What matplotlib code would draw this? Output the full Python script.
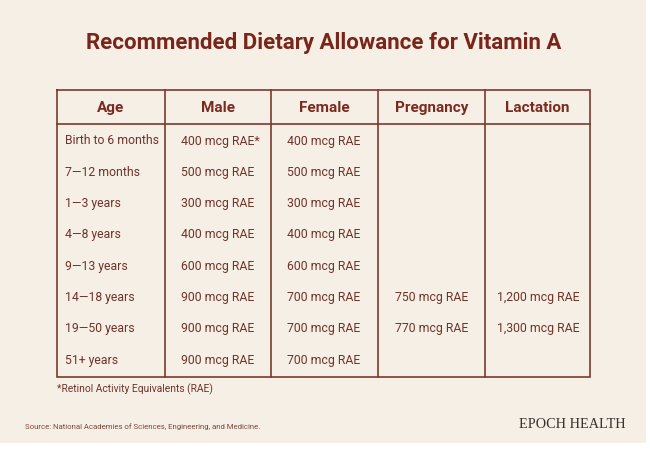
import matplotlib
matplotlib.use("Agg")
import matplotlib.pyplot as plt
from matplotlib.patches import Rectangle

# ---- data ----
title = "Recommended Dietary Allowance for Vitamin A"
headers = ["Age", "Male", "Female", "Pregnancy", "Lactation"]
ages = ["Birth to 6 months", "7\u201412 months", "1\u20143 years", "4\u20148 years",
        "9\u201413 years", "14\u201418 years", "19\u201450 years", "51+ years"]
male = ["400 mcg RAE*", "500 mcg RAE", "300 mcg RAE", "400 mcg RAE",
        "600 mcg RAE", "900 mcg RAE", "900 mcg RAE", "900 mcg RAE"]
female = ["400 mcg RAE", "500 mcg RAE", "300 mcg RAE", "400 mcg RAE",
          "600 mcg RAE", "700 mcg RAE", "700 mcg RAE", "700 mcg RAE"]
pregnancy = ["", "", "", "", "", "750 mcg RAE", "770 mcg RAE", ""]
lactation = ["", "", "", "", "", "1,200 mcg RAE", "1,300 mcg RAE", ""]
footnote = "*Retinol Activity Equivalents (RAE)"
source = "Source: National Academies of Sciences, Engineering, and Medicine."
brand = "EPOCH HEALTH"

# ---- style ----
BG = "#f6efe6"
TITLE_C = "#7a2519"
HEAD_C = "#7a2a1f"
BODY_C = "#6e3329"
LINE_C = "#7b3a2d"
FONT = "Roboto"

W, H = 650, 450
fig = plt.figure(figsize=(W / 100, H / 100), dpi=100, facecolor="white")
ax = fig.add_axes([0, 0, 1, 1])
ax.set_xlim(0, W)
ax.set_ylim(H, 0)
ax.axis("off")
ax.add_patch(Rectangle((0, 0), 646, 443, facecolor=BG, edgecolor="none", zorder=0))

ax.text(324, 43, title, ha="center", va="center", fontsize=16,
        fontweight="bold", color=TITLE_C, family=FONT)

# table geometry
col_edges = [57, 165, 271, 378, 485, 590]
top, head_bot, bottom = 90, 124, 377
row_y0, row_step = 141, 31.3
text_x = [65, 181, 287, 395, 497]

lw = 1.2
ax.plot([col_edges[0], col_edges[-1], col_edges[-1], col_edges[0], col_edges[0]],
        [top, top, bottom, bottom, top], color=LINE_C, lw=lw, solid_joinstyle="miter")
ax.plot([col_edges[0], col_edges[-1]], [head_bot, head_bot], color=LINE_C, lw=lw)
for x in col_edges[1:-1]:
    ax.plot([x, x], [top, bottom], color=LINE_C, lw=lw)

for i, h in enumerate(headers):
    cx = (col_edges[i] + col_edges[i + 1]) / 2
    ax.text(cx, (top + head_bot) / 2 + 1, h, ha="center", va="center",
            fontsize=11, fontweight="bold", color=HEAD_C, family=FONT)

columns = [ages, male, female, pregnancy, lactation]
for j, col in enumerate(columns):
    for i, val in enumerate(col):
        if val:
            ax.text(text_x[j], row_y0 + i * row_step, val, ha="left", va="center",
                    fontsize=8.8, color=BODY_C, family=FONT)

ax.text(57, 389, footnote, ha="left", va="center", fontsize=7.4, color=BODY_C, family=FONT)
ax.text(25, 427, source, ha="left", va="center", fontsize=5.6, color="#7a4a3e", family=FONT)
ax.text(626, 425, brand, ha="right", va="center", fontsize=10.3,
        color="#3a3230", family="Liberation Serif")

fig.savefig("out.png", dpi=100, facecolor="white")
